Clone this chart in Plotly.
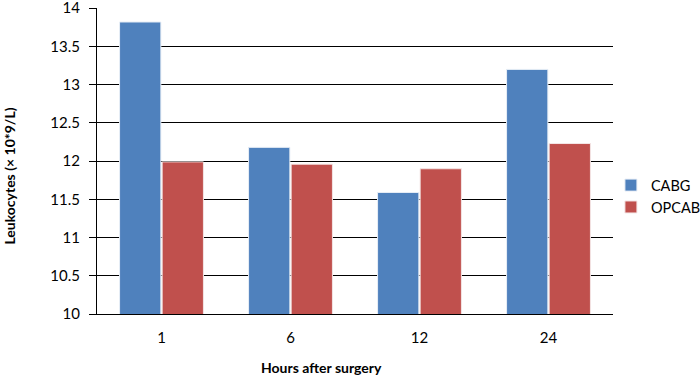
import plotly.graph_objects as go

categories = ["1", "6", "12", "24"]
cabg = [13.82, 12.18, 11.59, 13.20]
opcab = [11.99, 11.96, 11.90, 12.23]
y_ticks = [10, 10.5, 11, 11.5, 12, 12.5, 13, 13.5, 14]
y_tick_labels = ["10", "10.5", "11", "11.5", "12", "12.5", "13", "13.5", "14"]

FONT = "Lato, Carlito, 'Open Sans', sans-serif"

fig = go.Figure()
fig.add_trace(go.Bar(x=categories, y=cabg, name="CABG",
                     marker=dict(color="#4F81BD", line=dict(color="#E8EEF6", width=1))))
fig.add_trace(go.Bar(x=categories, y=opcab, name="OPCAB",
                     marker=dict(color="#C0504D", line=dict(color="#F4E6E6", width=1))))

fig.update_layout(
    width=700, height=379,
    margin=dict(l=97, r=87, t=8, b=65, autoexpand=False),
    paper_bgcolor="white", plot_bgcolor="white",
    barmode="group", bargap=0.34, bargroupgap=0.03,
    font=dict(family=FONT, size=15, color="#000"),
    showlegend=True,
    legend=dict(x=0.996, y=0.385, xanchor="left", yanchor="middle",
                font=dict(size=14.5), itemwidth=30, tracegroupgap=2,
                bgcolor="rgba(0,0,0,0)"),
    xaxis=dict(type="category", showgrid=False, showline=True, linecolor="#000",
               linewidth=1, ticks="", layer="below traces", automargin=False,
               ticklabelstandoff=10, tickfont=dict(size=15)),
    yaxis=dict(range=[10, 14.003], tickvals=y_ticks, ticktext=y_tick_labels,
               showgrid=True, gridcolor="#000", gridwidth=1,
               showline=True, linecolor="#000", linewidth=1,
               ticks="outside", ticklen=7, tickcolor="#000",
               zeroline=False, layer="below traces", automargin=False,
               ticklabeloverflow="allow",
               ticklabelstandoff=6, tickfont=dict(size=15)),
    annotations=[
        dict(text="<b>Hours after surgery</b>", xref="paper", yref="paper",
             x=0.436, y=-0.175, xanchor="center", yanchor="middle",
             showarrow=False, font=dict(size=14)),
        dict(text="<b>Leukocytes (× 10*9/L)</b>", xref="paper", yref="paper",
             x=-0.17, y=0.45, xanchor="center", yanchor="middle", textangle=-90,
             showarrow=False, font=dict(size=14)),
    ],
)

fig.write_html("out.html", config={"displayModeBar": False},
               post_script="document.body.style.margin='0';document.body.style.overflow='hidden';")
